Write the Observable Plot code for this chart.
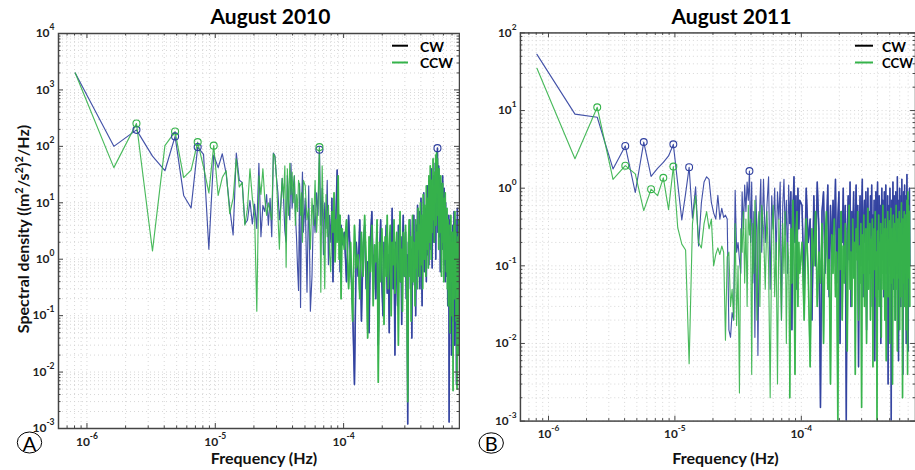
<!DOCTYPE html>
<html><head><meta charset="utf-8">
<script src="https://cdn.jsdelivr.net/npm/d3@7"></script>
<script src="https://cdn.jsdelivr.net/npm/@observablehq/plot@0.6"></script>
<style>
html,body{margin:0;padding:0;background:#fff;}
#wrap{position:relative;width:915px;height:470px;overflow:hidden;background:#fff;}
.panel{position:absolute;top:0;height:470px;overflow:hidden;}
#ov{position:absolute;left:0;top:0;pointer-events:none;font-family:Lato,"DejaVu Sans",sans-serif;}
</style>
</head><body>
<div id="wrap">
  <div class="panel" id="pA" style="left:0;width:460px"></div>
  <div class="panel" id="pB" style="left:460px;width:455px"></div>
  <svg id="ov" width="915" height="470" xmlns="http://www.w3.org/2000/svg">
    <text x="270.5" y="23.5" text-anchor="middle" font-size="21" font-weight="bold" fill="#000">August 2010</text>
    <text x="731.5" y="23.5" text-anchor="middle" font-size="21" font-weight="bold" fill="#000">August 2011</text>
    <text x="264" y="464" text-anchor="middle" font-size="16" font-weight="bold" fill="#111">Frequency (Hz)</text>
    <text x="725.5" y="464" text-anchor="middle" font-size="16" font-weight="bold" fill="#111">Frequency (Hz)</text>
    <text transform="translate(28.5,229) rotate(-90)" text-anchor="middle" font-size="16" font-weight="bold" fill="#111">Spectral density ((m<tspan dy="-6" font-size="11">2</tspan><tspan dy="6">/s</tspan><tspan dy="-6" font-size="11">2</tspan><tspan dy="6">)</tspan><tspan dy="-6" font-size="11">2</tspan><tspan dy="6">/Hz)</tspan></text>
    <line x1="392" x2="408" y1="45.7" y2="45.7" stroke="#000" stroke-width="2"/>
    <text x="420" y="51.5" font-size="14" font-weight="bold" fill="#000">CW</text>
    <line x1="392" x2="408" y1="62.5" y2="62.5" stroke="#35b34a" stroke-width="2"/>
    <text x="420" y="68" font-size="14" font-weight="bold" fill="#000">CCW</text>
    <line x1="855" x2="873" y1="45.7" y2="45.7" stroke="#000" stroke-width="2"/>
    <text x="882" y="51.5" font-size="14" font-weight="bold" fill="#000">CW</text>
    <line x1="855" x2="873" y1="62.5" y2="62.5" stroke="#35b34a" stroke-width="2"/>
    <text x="882" y="68" font-size="14" font-weight="bold" fill="#000" textLength="31" lengthAdjust="spacingAndGlyphs">CCW</text>
    <ellipse cx="29.5" cy="442.5" rx="12.2" ry="10.5" fill="none" stroke="#000" stroke-width="1"/>
    <text x="29.5" y="450.5" text-anchor="middle" font-size="20" fill="#000">A</text>
    <ellipse cx="491.2" cy="443" rx="12.2" ry="10.2" fill="none" stroke="#000" stroke-width="1"/>
    <text x="491.2" y="451" text-anchor="middle" font-size="20" fill="#000">B</text>
  </svg>
</div>
<script>
// ---------- data ----------
// frequency resolution (Hz); point k sits at k*df
const df = 8.1e-7;

// August 2010, CW  (k = 1..60, then 62..120 step 2, then 125.. step 5)
const cw2010_a = [2000,100,196,67,37,150,13.5,8.1,97,72,
  1.5,70,42,74,33,8,2.7,76,25,23,
  4.2,4.9,11,4.2,9.5,3.5,50,2.5,9,7,
  14,4,12,2.5,76,68,28,15,5,9,
  27,12,3.2,2,30,10,5,50,8,18,
  30,6,2.5,0.72,0.28,22,0.14,8,35,3];
const cw2010_b = [12,0.26,20,0.12,0.5,9,3,15,6,87,
  4,18,1.2,10,3.5,25,0.8,6,2,12,
  0.4,5,1.5,8,38,2.2,6,0.6,4,1.8];
const cw2010_c = [3,0.4,6,0.9,0.15,0.006,2,0.5,5,0.08,
  1.5,4,0.3,0.9,0.05,2.5,7,0.6,1.2,0.2,
  3,0.03,1,5,0.4,0.1,2,0.7,4,0.25,
  1.2,0.05,3,0.6,8,0.3,1.5,0.02,2,0.8,
  0.15,4,1,0.4,2.5,0.07,1.8,6,0.5,0.9,
  3,0.2,1.2,0.0012,2,0.6,5,0.3,1.5,0.04,
  2.5,0.8,6,0.35,1.8,0.1,4,1,9,0.5,
  2,7,0.3,3,12,1,0.15,5,2,15,
  0.6,4,1.5,8,0.4,3,20,1.2,6,0.8,
  25,3,10,1.5,40,5,0.7,18,4,30,
  2,12,6,50,1,20,8,35,93,3,
  15,45,2.5,10,28,0.6,7,22,4,12,
  1.5,30,5,9,0.8,18,3,6,0.4,10,
  2,7,0.5,4,1.2,0.15,3,0.8,6,0.0013,
  1,0.3,5,0.05,2,0.6,0.02,3,0.9,0.2,
  4,0.08,1.5,0.4,7,0.7,0.03,2,0.25,5,
  0.5,1.2,0.006,3,0.4,8,0.9,0.3,4,0.06,
  1.5,0.7,2.5];

// August 2010, CCW
const ccw2010_a = [2000,42,254,1.4,103,183,28,38,119,43,
  15,103,13.5,28,37,6.4,12,60,19,23,
  4,8,40,12,6,0.12,30,14,40,12,
  6,10,7,5,74,65,28,6,1.5,9,
  27,12,45,0.72,40,6,50,14,35,10,
  30,4,14,7,25,20,6,15,2,25];
const ccw2010_b = [20,5,8,1.5,12,4,25,3,10,97,
  0.26,45,6,0.3,14,2.5,9,1.2,0.6,7,
  3,15,0.9,5,2,30,1,6,0.2,3.5];
const ccw2010_c = [1.5,5,0.3,2,0.08,4,0.7,1.2,0.2,3,
  0.5,6,1,0.04,2.5,0.6,4,0.15,1.8,0.9,
  5,0.0066,2,0.4,3.5,1,0.07,2.5,0.5,6,
  0.3,1.5,4,0.1,2,0.8,5,0.25,1.2,3,
  0.6,0.03,2,7,0.4,1.5,0.12,3,1,0.5,
  4,0.9,0.2,0.003,1.8,5,0.5,2.5,0.08,1.2,
  6,0.4,2,1,0.15,5,0.7,3,0.3,8,
  1.5,4,0.5,10,2,0.8,6,0.3,14,3,
  1,9,2.5,0.5,20,4,1.5,12,0.7,30,
  6,2,45,8,1,25,3,15,60,5,
  20,2,35,10,70,4,80,15,60,6,
  25,1.5,40,8,18,3,30,10,0.5,14,
  5,22,2,8,0.4,12,4,1,15,2.5,
  6,0.6,3,8,0.3,2,5,0.15,1.5,4,
  0.5,2.5,0.05,1.2,6,0.4,2,0.9,0.1,3,
  1,0.0047,2,0.6,4,0.2,1.5,7,0.3,1,
  3,0.08,0.7,2,0.005,1.5,0.4,2.5,0.02,1,
  5,0.3,1.2];

// August 2011, CW
const cw2011_a = [53,9,8.2,1.77,3.5,0.88,3.93,1.42,1.8,2.15,
  2.6,3.67,1.14,0.39,0.85,1.86,0.41,1.04,0.18,0.65,
  1.2,1.4,1.3,0.65,0.48,0.4,0.81,0.4,0.55,0.42,
  0.45,0.4,0.015,0.012,0.025,0.02,0.94,0.15,0.2,0.12,
  0.08,0.9,0.3,1.1,0.5,1.2,0.7,1.66,0.2,1.2,
  0.06,0.5,0.012,0.8,0.3,0.007,0.1,0.6,1.3,0.15];
const cw2011_b = [1.3,0.2,0.6,1.4,0.05,0.8,0.3,1.0,0.12,0.9,
  0.4,1.2,0.02,0.6,1.3,0.25,0.7,0.08,1.1,0.35,
  0.9,0.015,0.5,1.4,0.2,0.8,0.05,1.0,0.3,0.7];
const cw2011_c = [0.6,0.05,1.0,0.2,0.4,0.02,0.8,0.1,1.2,0.3,
  0.0015,0.5,0.9,0.08,0.3,1.1,0.04,0.6,0.15,0.7,
  0.25,1.3,0.06,0.4,0.9,0.01,0.5,0.2,1.0,0.08,
  0.6,0.001,0.3,0.8,0.12,1.2,0.03,0.5,0.2,0.9,
  0.07,0.4,1.1,0.15,0.6,0.005,0.3,0.8,0.1,0.5,
  1.3,0.04,0.35,0.7,0.2,0.9,0.015,0.4,1.0,0.12,
  0.5,0.08,0.8,0.25,1.1,0.03,0.45,0.15,0.7,0.006,
  0.3,0.9,0.1,0.5,1.2,0.05,0.35,0.8,0.2,0.6,
  0.01,0.4,1.0,0.12,0.7,0.3,0.04,0.9,0.2,0.5,
  1.1,0.08,0.4,0.15,0.8,0.003,0.3,0.6,0.1,1.0,
  0.25,0.5,0.001,0.7,0.15,0.4,1.2,0.05,0.3,0.8,
  0.12,0.5,0.02,0.9,0.3,0.6,0.08,1.4,0.2,0.45,
  0.006,0.7,0.25,1.0,0.1,0.5,0.03,0.8,0.2,1.3,
  0.15,0.6,0.004,0.4,0.9,0.1,0.35,1.1,0.05,0.5,
  0.2,0.8,0.01,0.45,1.5,0.12,0.6,0.3,0.008,0.7,
  0.25,0.4,1.0,0.1];

// August 2011, CCW
const ccw2011_a = [35,2.4,11,1.3,1.95,1.53,0.515,0.97,0.8,1.36,
  0.53,1.9,0.31,0.19,0.16,0.0055,0.35,0.8,0.2,0.17,
  0.35,0.5,0.3,0.4,0.1,0.14,0.17,0.14,0.18,0.15,
  0.011,0.13,0.15,0.03,0.05,0.02,0.35,0.017,0.1,0.0023,
  0.3,0.15,0.5,0.06,0.4,0.03,0.6,0.25,0.4,0.004,
  0.35,0.08,0.7,0.15,0.02,0.3,0.5,0.03,0.2,0.6];
const ccw2011_b = [0.3,0.05,0.5,0.1,0.002,0.25,0.6,0.04,0.2,0.003,
  0.4,0.1,0.02,0.35,0.08,0.5,0.01,0.2,0.12,0.002,
  0.3,0.06,0.7,0.15,0.004,0.25,0.5,0.03,0.2,0.08];
const ccw2011_c = [0.2,0.02,0.4,0.08,0.005,0.3,0.1,0.5,0.03,0.15,
  0.06,0.35,0.01,0.2,0.5,0.05,0.12,0.003,0.25,0.08,
  0.4,0.04,0.15,0.001,0.3,0.09,0.5,0.02,0.18,0.06,
  0.35,0.1,0.008,0.25,0.6,0.05,0.15,0.03,0.4,0.07,
  0.2,0.004,0.3,0.12,0.5,0.02,0.18,0.06,0.35,0.0015,
  0.25,0.08,0.45,0.03,0.15,0.3,0.01,0.2,0.55,0.05,
  0.12,0.35,0.02,0.22,0.07,0.4,0.005,0.18,0.3,0.09,
  0.5,0.04,0.15,0.001,0.28,0.1,0.45,0.03,0.2,0.07,
  0.35,0.012,0.25,0.08,0.6,0.05,0.18,0.3,0.02,0.4,
  0.1,0.006,0.3,0.15,0.5,0.04,0.22,0.08,0.38,0.01,
  0.2,0.55,0.06,0.3,0.12,0.003,0.25,0.45,0.07,0.18,
  0.35,0.02,0.28,0.1,0.6,0.05,0.2,0.008,0.4,0.12,
  0.3,0.07,0.5,0.015,0.22,0.35,0.04,0.18,0.65,0.09,
  0.25,0.002,0.4,0.12,0.3,0.06,0.5,0.03,0.2,0.45,
  0.08,0.35,0.015,0.25,0.7,0.1,0.004,0.9,0.18,0.6,
  0.07,0.2,0.5,0.03];

// harmonic numbers of the circled peaks
const peaks2010_cw = [3, 6, 9, 80, 665];
const peaks2010_ccw = [3, 6, 9, 12, 80];
const peaks2011_cw = [5, 7, 12, 16, 48];
const peaks2011_ccw = [3, 5, 8, 10, 12];

// axis domains
const xDomain = [6e-7, 8e-4];
const yDomain2010 = [1e-3, 1e4];
const yDomain2011 = [1e-3, 1e2];

// ---------- build ----------
const BLUE = "#2f3f9f", GREEN = "#35b34a";
function series(a, b, c) {
  const out = [];
  a.forEach((v, i) => out.push({k: i + 1, v}));
  b.forEach((v, i) => out.push({k: 62 + 2 * i, v}));
  c.forEach((v, i) => out.push({k: 125 + 5 * i, v}));
  out.forEach(d => d.f = d.k * df);
  return out;
}
function decades([lo, hi]) {
  const t = [];
  for (let e = Math.floor(Math.log10(lo)); e <= Math.ceil(Math.log10(hi)); e++) {
    const v = Math.pow(10, e);
    if (v >= lo * 0.999 && v <= hi * 1.001) t.push(v);
  }
  return t;
}
function minors([lo, hi]) {
  const t = [];
  for (let e = Math.floor(Math.log10(lo)); e <= Math.ceil(Math.log10(hi)); e++) {
    for (let m = 2; m <= 9; m++) {
      const v = m * Math.pow(10, e);
      if (v >= lo * 0.999 && v <= hi * 1.001) t.push(v);
    }
  }
  return t;
}
const NS = "http://www.w3.org/2000/svg";
function supify(svg, sel) {
  svg.querySelectorAll(sel + " text").forEach(t => {
    const e = t.textContent;
    t.textContent = "";
    const a = document.createElementNS(NS, "tspan");
    a.textContent = "10";
    const b = document.createElementNS(NS, "tspan");
    b.textContent = e;
    b.setAttribute("dy", "-7");
    b.setAttribute("font-size", "8.5px");
    t.appendChild(a); t.appendChild(b);
  });
}
function panel({width, marginLeft, marginRight, yDomain, cw, ccw, cwPeaks, ccwPeaks}) {
  const H = 470, mt = 33, mb = 42;
  const plotW = width - marginLeft - marginRight, plotH = H - mt - mb;
  const xMaj = decades(xDomain), xMin = minors(xDomain);
  const yMaj = decades(yDomain), yMin = minors(yDomain);
  const pk = (data, ks) => ks.map(k => data.find(d => d.k === k)).filter(Boolean);
  const hi = data => data.filter(d => d.k >= 100);
  const tc = "#444";
  const svg = Plot.plot({
    width, height: H, marginLeft, marginRight, marginTop: mt, marginBottom: mb,
    style: {background: "transparent", fontFamily: "Lato, 'DejaVu Sans', sans-serif", fontSize: "12px", fontWeight: "bold", color: "#222"},
    x: {type: "log", domain: xDomain},
    y: {type: "log", domain: yDomain},
    marks: [
      Plot.ruleX([...xMaj, ...xMin], {stroke: "#d2d2d2", strokeWidth: 0.9, strokeDasharray: "1,3"}),
      Plot.ruleY([...yMaj, ...yMin], {stroke: "#d2d2d2", strokeWidth: 0.9, strokeDasharray: "1,3"}),
      Plot.line(cw, {x: "f", y: "v", stroke: BLUE, strokeWidth: 1.15, strokeOpacity: 0.9, clip: true}),
      Plot.line(hi(cw), {x: "f", y: "v", stroke: BLUE, strokeWidth: 1.6, strokeOpacity: 0.85, clip: true}),
      Plot.line(ccw, {x: "f", y: "v", stroke: GREEN, strokeWidth: 1.15, strokeOpacity: 0.9, clip: true}),
      Plot.line(hi(ccw), {x: "f", y: "v", stroke: GREEN, strokeWidth: 1.7, strokeOpacity: 0.85, clip: true}),
      Plot.dot(pk(cw, cwPeaks), {x: "f", y: "v", r: 3.5, stroke: BLUE, fill: "none", strokeWidth: 1.1}),
      Plot.dot(pk(ccw, ccwPeaks), {x: "f", y: "v", r: 3.5, stroke: GREEN, fill: "none", strokeWidth: 1.1}),
      Plot.ruleX(xMaj, {insetTop: plotH - 5, stroke: tc}),
      Plot.ruleX(xMaj, {insetBottom: plotH - 5, stroke: tc}),
      Plot.ruleX(xMin, {insetTop: plotH - 2.5, stroke: tc}),
      Plot.ruleX(xMin, {insetBottom: plotH - 2.5, stroke: tc}),
      Plot.ruleY(yMaj, {insetRight: plotW - 5, stroke: tc}),
      Plot.ruleY(yMaj, {insetLeft: plotW - 5, stroke: tc}),
      Plot.ruleY(yMin, {insetRight: plotW - 2.5, stroke: tc}),
      Plot.ruleY(yMin, {insetLeft: plotW - 2.5, stroke: tc}),
      Plot.frame({stroke: tc, strokeWidth: 1.5}),
      Plot.axisX({ticks: xMaj, tickSize: 0, tickPadding: 9, tickFormat: d => String(Math.round(Math.log10(d))), label: null}),
      Plot.axisY({ticks: yMaj, tickSize: 0, tickPadding: 4, tickFormat: d => String(Math.round(Math.log10(d))), label: null})
    ]
  });
  supify(svg, 'g[aria-label="x-axis tick label"]');
  supify(svg, 'g[aria-label="y-axis tick label"]');
  return svg;
}

const d2010cw = series(cw2010_a, cw2010_b, cw2010_c);
const d2010ccw = series(ccw2010_a, ccw2010_b, ccw2010_c);
const d2011cw = series(cw2011_a, cw2011_b, cw2011_c);
const d2011ccw = series(ccw2011_a, ccw2011_b, ccw2011_c);

document.getElementById("pA").appendChild(panel({
  width: 460, marginLeft: 58, marginRight: 1, yDomain: yDomain2010,
  cw: d2010cw, ccw: d2010ccw, cwPeaks: peaks2010_cw, ccwPeaks: peaks2010_ccw
}));
document.getElementById("pB").appendChild(panel({
  width: 463, marginLeft: 61, marginRight: 0, yDomain: yDomain2011,
  cw: d2011cw, ccw: d2011ccw, cwPeaks: peaks2011_cw, ccwPeaks: peaks2011_ccw
}));
</script>
</body></html>
